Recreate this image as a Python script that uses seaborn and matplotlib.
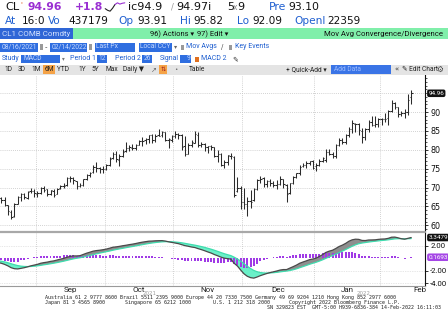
import numpy as np
import pandas as pd
import matplotlib
matplotlib.use("Agg")
import matplotlib.pyplot as plt
import seaborn as sns
from matplotlib.patches import Rectangle
from matplotlib.transforms import blended_transform_factory as btf

# ---------------- data ----------------
start_date = "2021-08-16"
end_date = "2022-02-14"
holidays = ["2021-09-06", "2021-11-25", "2021-12-24", "2022-01-17"]

opens = [68.00, 67.15, 66.70, 65.27, 63.50, 62.50, 65.70, 67.60, 68.20, 67.30, 69.00, 69.20,
         68.40, 68.60, 70.00, 69.50, 68.40, 69.20, 68.30, 69.80, 70.50, 70.60, 72.50, 72.60, 71.70, 70.40, 70.60, 72.30, 73.30, 74.00, 75.50, 75.30, 74.80,
         75.00, 75.90, 77.70, 79.00, 77.40, 78.40, 79.60, 80.50, 80.60, 80.50, 81.40, 82.30, 82.50, 82.90, 83.80, 82.50, 83.80, 83.80, 84.60, 82.60, 82.70,
         83.70, 84.10, 83.90, 80.90, 78.80, 81.30, 81.90, 84.00, 81.40, 81.50, 80.80, 80.90, 80.70, 78.30, 78.90, 76.00, 76.80, 78.40, 78.00, 69.00, 70.00,
         66.30, 65.60, 66.50, 66.80, 69.50, 72.00, 72.40, 70.90, 71.70, 71.30, 70.70, 70.90, 72.30, 70.80, 68.50, 71.10, 72.80, 73.90, 75.60, 75.90, 76.50, 76.90,
         75.70, 76.10, 77.00, 77.40, 79.50, 78.90, 78.30, 81.20, 82.60, 82.10, 83.90, 85.40, 86.90, 86.80, 85.00, 83.30, 85.60, 87.40, 86.60, 86.90,
         88.10, 88.20, 88.30, 90.30, 92.30, 91.30, 89.40, 89.70, 89.90, 93.91]
highs = [68.20, 67.55, 67.40, 65.32, 63.93, 65.94, 67.76, 68.50, 68.52, 69.03, 69.93, 69.57,
         69.04, 70.22, 70.30, 69.60, 69.46, 69.52, 69.86, 70.78, 71.10, 72.80, 73.15, 72.73, 71.78, 71.29, 72.34, 73.59, 74.14, 75.89, 76.67, 75.50, 75.59,
         76.17, 77.96, 79.48, 79.78, 78.91, 80.11, 82.18, 81.14, 81.62, 81.54, 82.57, 83.26, 83.08, 83.96, 84.26, 84.23, 85.41, 84.88, 84.72, 83.21, 84.00,
         84.88, 84.46, 84.06, 83.55, 81.79, 82.64, 84.97, 84.84, 81.98, 81.77, 81.05, 81.31, 80.84, 79.96, 79.20, 77.22, 78.69, 79.04, 78.35, 72.72, 70.54,
         69.90, 67.39, 69.23, 69.77, 72.32, 72.98, 72.78, 71.94, 72.17, 71.63, 71.90, 72.94, 72.38, 70.84, 71.28, 72.98, 73.95, 75.97, 76.62, 77.01, 77.12, 77.18,
         76.40, 77.64, 78.03, 80.24, 80.12, 79.37, 81.43, 83.09, 83.00, 84.26, 86.00, 87.91, 87.00, 87.02, 85.78, 85.81, 87.95, 88.84, 88.84, 88.37,
         88.44, 89.72, 90.42, 93.17, 92.73, 91.44, 90.33, 90.80, 94.66, 95.82]
lows = [65.01, 65.90, 65.16, 62.66, 61.74, 62.31, 65.61, 66.57, 66.86, 67.04, 68.47, 67.62,
        67.58, 68.40, 68.78, 67.77, 68.05, 67.61, 68.20, 69.50, 69.81, 70.36, 71.55, 71.05, 69.64, 70.25, 70.40, 71.88, 72.71, 73.96, 74.05, 73.76, 73.81,
        74.56, 75.63, 77.56, 76.67, 75.82, 78.20, 79.49, 79.62, 79.93, 79.95, 81.25, 80.97, 81.62, 81.83, 81.90, 82.08, 83.56, 83.49, 82.27, 80.58, 82.01,
        83.25, 82.88, 79.85, 78.25, 78.80, 80.65, 81.85, 80.81, 80.77, 79.59, 79.24, 79.82, 78.09, 76.86, 75.63, 75.09, 75.92, 77.51, 67.40, 68.87, 64.43,
        64.39, 62.43, 64.67, 66.51, 69.36, 71.10, 70.13, 70.17, 70.53, 70.12, 69.57, 70.69, 69.95, 66.12, 68.32, 70.98, 72.48, 73.21, 75.37, 75.10, 75.90, 74.90,
        74.27, 75.71, 76.79, 76.73, 78.49, 77.81, 77.95, 81.03, 81.52, 81.60, 83.50, 84.54, 84.75, 84.00, 81.72, 82.69, 84.60, 86.36, 85.99, 86.13,
        86.55, 87.24, 86.63, 90.05, 90.81, 88.58, 88.92, 88.50, 89.30, 92.09]
closes = [67.29, 66.59, 65.46, 63.69, 62.32, 65.64, 67.54, 68.36, 67.42, 68.74, 69.21, 68.50,
          68.59, 69.99, 69.29, 68.35, 69.30, 68.14, 69.72, 70.45, 70.46, 72.61, 72.61, 71.97, 70.29, 70.56, 72.23, 73.30, 73.98, 75.45, 75.29, 74.83, 75.03,
          75.88, 77.62, 78.93, 77.43, 78.30, 79.35, 80.52, 80.64, 80.44, 81.31, 82.28, 82.44, 82.96, 83.87, 82.50, 83.76, 83.76, 84.65, 82.66, 82.81, 83.57,
          84.05, 83.91, 80.86, 78.81, 81.27, 81.93, 84.15, 81.34, 81.59, 80.79, 80.88, 80.76, 78.36, 79.01, 76.10, 76.75, 78.50, 78.39, 68.15, 69.95, 66.18,
          65.57, 66.50, 66.26, 69.49, 72.05, 72.36, 70.94, 71.67, 71.29, 70.73, 70.87, 72.38, 70.86, 68.23, 71.12, 72.76, 73.79, 75.57, 75.98, 76.56, 76.99, 75.21,
          76.08, 76.99, 77.85, 79.46, 78.90, 78.23, 81.22, 82.64, 82.12, 83.82, 85.43, 86.96, 86.90, 85.14, 83.31, 85.60, 87.35, 86.61, 86.82, 88.15,
          88.20, 88.26, 90.27, 92.31, 91.32, 89.36, 89.66, 89.88, 93.10, 94.96]

macd = [-0.70, -0.80, -0.98, -1.22, -1.52, -1.68, -1.72, -1.62, -1.52, -1.38, -1.22, -1.10,
        -0.98, -0.80, -0.70, -0.62, -0.50, -0.42, -0.28, -0.14, -0.02, 0.16, 0.30, 0.38, 0.38, 0.42, 0.62, 0.82, 0.98, 1.15, 1.24, 1.30, 1.38,
        1.48, 1.62, 1.78, 1.84, 1.92, 2.02, 2.10, 2.20, 2.28, 2.38, 2.50, 2.60, 2.68, 2.76, 2.78, 2.82, 2.84, 2.85, 2.78, 2.66, 2.56,
        2.46, 2.36, 2.20, 2.04, 1.94, 1.82, 1.74, 1.56, 1.40, 1.22, 1.02, 0.84, 0.60, 0.40, 0.18, 0.02, -0.06, -0.14, -0.80, -1.25, -1.90,
        -2.50, -2.90, -3.12, -3.20, -3.02, -2.80, -2.62, -2.45, -2.30, -2.18, -2.05, -1.90, -1.82, -1.82, -1.58, -1.35, -1.10, -0.80, -0.60, -0.42, -0.22, -0.12,
        0.02, 0.30, 0.60, 0.95, 1.15, 1.30, 1.58, 1.90, 2.12, 2.40, 2.75, 2.98, 3.08, 3.05, 2.88, 2.86, 2.95, 2.96, 2.98, 3.05,
        3.10, 3.12, 3.22, 3.40, 3.42, 3.30, 3.15, 3.08, 3.22, 3.3479]
signal = [-0.40, -0.48, -0.58, -0.72, -0.88, -1.04, -1.18, -1.27, -1.32, -1.34, -1.32, -1.28,
          -1.22, -1.14, -1.05, -0.97, -0.88, -0.79, -0.69, -0.58, -0.47, -0.34, -0.21, -0.09, 0.01, 0.09, 0.20, 0.32, 0.45, 0.59, 0.72, 0.84, 0.95,
          1.06, 1.17, 1.30, 1.41, 1.51, 1.61, 1.71, 1.81, 1.90, 2.00, 2.10, 2.20, 2.30, 2.39, 2.47, 2.54, 2.60, 2.65, 2.68, 2.68, 2.66,
          2.62, 2.57, 2.50, 2.41, 2.31, 2.21, 2.12, 2.01, 1.89, 1.76, 1.61, 1.46, 1.29, 1.11, 0.92, 0.74, 0.58, 0.43, 0.18, -0.11, -0.47,
          -0.88, -1.28, -1.65, -1.96, -2.17, -2.30, -2.37, -2.38, -2.36, -2.32, -2.27, -2.19, -2.12, -2.06, -1.97, -1.85, -1.70, -1.52, -1.34, -1.16, -0.97, -0.80,
          -0.64, -0.45, -0.24, 0.00, 0.23, 0.44, 0.67, 0.92, 1.16, 1.41, 1.68, 1.94, 2.17, 2.35, 2.46, 2.54, 2.62, 2.69, 2.75, 2.81,
          2.87, 2.92, 2.98, 3.06, 3.13, 3.16, 3.16, 3.14, 3.16, 3.1786]
histogram = [-0.30, -0.32, -0.40, -0.50, -0.64, -0.64, -0.54, -0.35, -0.20, -0.04, 0.10, 0.18,
             0.24, 0.34, 0.35, 0.35, 0.38, 0.37, 0.41, 0.44, 0.45, 0.50, 0.51, 0.47, 0.37, 0.33, 0.42, 0.50, 0.53, 0.56, 0.52, 0.46, 0.43,
             0.42, 0.45, 0.48, 0.43, 0.41, 0.41, 0.39, 0.39, 0.38, 0.38, 0.40, 0.40, 0.38, 0.37, 0.31, 0.28, 0.24, 0.20, 0.10, -0.02, -0.10,
             -0.16, -0.21, -0.30, -0.37, -0.37, -0.39, -0.38, -0.45, -0.49, -0.54, -0.59, -0.62, -0.69, -0.71, -0.74, -0.72, -0.64, -0.57, -0.98, -1.14, -1.43,
             -1.62, -1.62, -1.47, -1.24, -0.85, -0.50, -0.25, -0.07, 0.06, 0.14, 0.22, 0.29, 0.30, 0.24, 0.39, 0.50, 0.60, 0.72, 0.74, 0.74, 0.75, 0.68,
             0.66, 0.75, 0.84, 0.95, 0.92, 0.86, 0.91, 0.98, 0.96, 0.99, 1.07, 1.04, 0.91, 0.70, 0.42, 0.32, 0.33, 0.27, 0.23, 0.24,
             0.23, 0.20, 0.24, 0.34, 0.29, 0.14, -0.01, -0.06, 0.06, 0.1693]

month_names = ["Sep", "Oct", "Nov", "Dec", "Jan", "Feb"]
month_label_pos = [22.0, 43.0, 64.0, 85.5, 106.5, 128.8]
price_grid = [60, 65, 70, 75, 80, 85, 90, 95]
price_ticks = [60, 65, 70, 75, 80, 85, 90]
macd_ticks = [-4, -2, 2]

dates = pd.bdate_range(start_date, end_date)
dates = dates[~dates.isin(pd.to_datetime(holidays))]
n = len(dates)
idx = np.arange(n)
o, h, l, c = map(np.array, (opens, highs, lows, closes))
m, s, hh = map(np.array, (macd, signal, histogram))

month_ids = dates.year * 12 + dates.month
boundaries = [i - 0.5 for i in range(1, n) if month_ids[i] != month_ids[i - 1]]

# ---------------- figure ----------------
sns.set_style("white")
plt.rcParams["font.family"] = ["DejaVu Sans"]
plt.rcParams["axes.unicode_minus"] = False

W, H = 448, 322
fig = plt.figure(figsize=(W / 100, H / 100), dpi=100)
COND = ["Roboto", "DejaVu Sans"]
MONO = ["DejaVu Sans Mono"]

BLUE_T = "#1f5fd0"
PURP = "#9a2fd2"
BOX_B = "#2f6ee0"
BOX_T = "#c5d8ff"


def fx(x):
    return x / W


def fy(y):
    return 1 - y / H


def rect(x0, y0, x1, y1, col, z=1, ec="none"):
    fig.add_artist(Rectangle((fx(x0), fy(y1)), (x1 - x0) / W, (y1 - y0) / H,
                             transform=fig.transFigure, facecolor=col,
                             edgecolor=ec, lw=0, zorder=z))


def txt(x, y, s, col="#111111", fs=7, w="normal", ha="left", fam=None, z=5):
    fig.text(fx(x), fy(y), s, color=col, fontsize=fs, fontweight=w, ha=ha,
             va="center", family=fam or ["DejaVu Sans"], zorder=z)


# Row 1
txt(5, 7, "CL", "#111", 8.2)
txt(20, 4, "'", "#e06020", 5)
txt(27, 7, "94.96", PURP, 7.8, "bold")
txt(75, 7, "+1.8", PURP, 7.8, "bold")
spark_black = [0.3, 0.1, 0.0, 0.35, 0.8]
spark_purple = [0.8, 1.0, 0.85, 0.95, 1.0]
sax = fig.add_axes([fx(104), fy(12), 22 / W, 10 / H])
sax.plot([0, 1, 2, 3, 4], spark_black, color="#222", lw=0.8)
sax.plot([4, 5, 6, 7, 8], spark_purple, color=PURP, lw=0.8)
sax.set_xlim(-0.5, 8.5)
sax.set_ylim(-0.1, 1.1)
sax.axis("off")
txt(128, 7, "ic94.9", "#111", 8)
txt(171, 7, "/", "#999", 6)
txt(176, 7, "94.97i", "#111", 8)
txt(227, 7, "5", "#111", 8)
txt(233, 7.5, "x", "#888", 5.5)
txt(237, 7, "9", "#111", 8)
txt(269, 7, "Pre", BLUE_T, 7.8)
txt(288, 7, "93.10", "#111", 7.8)

# Row 2
for x, st, col in [(5, "At", BLUE_T), (22, "16:0", "#111"), (48, "Vo", BLUE_T),
                   (68, "437179", "#111"), (118, "Op", BLUE_T), (137, "93.91", "#111"),
                   (180, "Hi", BLUE_T), (193, "95.82", "#111"), (237, "Lo", BLUE_T),
                   (252, "92.09", "#111"), (294, "OpenI", BLUE_T), (327, "22359", "#111")]:
    txt(x, 21, st, col, 7.6)

# Row 3 - green bar
rect(0, 28.5, 448, 39, "#80efaa")
rect(0, 28.5, 73, 39, "#2f66d6", z=2)
txt(2, 34, "CL1 COMB Comdty", "#d4e2ff", 5.8, fam=COND)
txt(150, 34, "96) Actions \u25be", "#111", 5.4, fam=COND)
txt(197, 34, "97) Edit \u25be", "#111", 5.4, fam=COND)
txt(443, 34, "Mov Avg Convergence/Divergence", "#111", 5.6, ha="right", fam=COND)

# Row 4
for x0, x1, st in [(0, 38, "08/16/2021"), (50, 87, "02/14/2022"), (95, 135, "Last Px"), (139, 172, "Local CCY")]:
    rect(x0, 42.5, x1, 51.5, BOX_B, z=2)
    txt(x0 + 1.2, 47, st, BOX_T, 4.9, fam=COND)
rect(39.5, 44, 43, 50, "#9a9a9a", z=2)
txt(45, 47, "-", "#333", 5)
rect(88.5, 44, 92, 50, "#9a9a9a", z=2)
txt(174, 47, "\u25be", "#666", 4.5)
rect(181, 44.5, 184, 49.5, "#999999", z=2)
txt(186, 47, "Mov Avgs", BLUE_T, 5.0, fam=COND)
txt(221, 47, "/", "#555", 5)
rect(229, 44.5, 232, 49.5, "#999999", z=2)
txt(235, 47, "Key Events", BLUE_T, 5.0, fam=COND)

# Row 5
txt(2, 59, "Study", BLUE_T, 5.0, fam=COND)
for x0, x1, st in [(21, 60, "MACD"), (97, 107, "12"), (142, 152, "26"), (180, 191, "9")]:
    rect(x0, 55, x1, 63, BOX_B, z=2)
    if st == "MACD":
        txt(x0 + 2, 59, st, BOX_T, 4.8, fam=COND)
    else:
        txt(x1 - 1, 59, st, BOX_T, 4.8, ha="right", fam=COND)
txt(61.5, 59, "\u25be", "#777", 4)
txt(70, 59, "Period 1", BLUE_T, 5.0, fam=COND)
txt(115, 59, "Period 2", BLUE_T, 5.0, fam=COND)
txt(160, 59, "Signal", BLUE_T, 5.0, fam=COND)
rect(195, 56.5, 199, 61.5, "#e07020", z=2)
txt(201, 59, "MACD 2", BLUE_T, 5.0, fam=COND)
txt(232, 59, "\u270e", "#333", 5)

# Row 6 - gray toolbar
rect(0, 64.5, 448, 74.5, "#e4e4e4")
rect(43, 65, 55, 74, "#f5a347", z=2)
for x, st in [(8, "1D"), (22, "3D"), (36, "1M"), (49, "6M"), (63, "YTD"), (82, "1Y"),
              (95, "5Y"), (112, "Max"), (133, "Daily \u25bc")]:
    txt(x, 69.5, st, "#222", 4.8, ha="center", fam=COND, z=6)
txt(154, 69.5, "\u2197", "#666", 5, ha="center")
rect(159, 65, 167, 74, "#f5a347", z=2)
txt(163, 69.5, "\u21c5", "#a02020", 4.5, ha="center", z=6)
txt(176, 69.5, "\u2022", "#666", 4, ha="center")
txt(197, 69.5, "Table", "#222", 4.8, ha="center", fam=COND)
txt(286, 69.5, "+ Quick-Add \u25be", "#222", 4.8, fam=COND)
rect(331, 65.5, 391, 73.5, "#3a74e6", z=2)
txt(334, 69.5, "Add Data", "#9dbcff", 4.8, fam=COND, z=6)
txt(394, 69.5, "\u00ab", "#333", 5)
txt(402, 69.5, "\u270e Edit Chart", "#222", 4.8, fam=COND)
txt(440, 69.5, "\u2699", "#444", 5.5, ha="center")

# ---------------- main price panel ----------------
ax = fig.add_axes([0, fy(231), 425 / W, (231 - 75) / H])
ax.set_xlim(0.6, 130.2)
ax.set_ylim(58.5, 99.8)
grid_kw = dict(color="#c4c4c4", lw=0.6, ls=(0, (1, 1.5)), zorder=0)
for v in price_grid:
    ax.axhline(v, **grid_kw)
for b in boundaries:
    ax.axvline(b, **grid_kw)
bar_col = "#2b2b2b"
ax.vlines(idx, l, h, color=bar_col, lw=0.75, zorder=3)
ax.hlines(o, idx - 0.45, idx, color=bar_col, lw=0.75, zorder=3)
ax.hlines(c, idx, idx + 0.45, color=bar_col, lw=0.75, zorder=3)
ax.yaxis.tick_right()
ax.set_yticks(price_ticks)
ax.set_yticklabels([str(v) for v in price_ticks])
ax.set_yticks(np.arange(59, 100, 1), minor=True)
ax.tick_params(axis="y", which="major", direction="out", length=2.5, width=0.6,
               labelsize=5.8, pad=1.5, colors="#111")
ax.tick_params(axis="y", which="minor", direction="out", length=1.2, width=0.5, colors="#111")
ax.set_xticks([])
for sp in ["left", "top", "bottom"]:
    ax.spines[sp].set_visible(False)
ax.spines["right"].set_color("#111")
ax.spines["right"].set_linewidth(0.8)
tr = btf(ax.transAxes, ax.transData)
box_kw = dict(boxstyle="round,pad=0.2,rounding_size=0.3", ec="none")
ax.text(1.008, closes[-1], "%.2f" % closes[-1], transform=tr, color="white", fontsize=4.6,
        ha="left", va="center", clip_on=False, zorder=10, family=COND,
        bbox=dict(fc="#111", **box_kw))

# ---------------- MACD panel ----------------
ax2 = fig.add_axes([0, fy(286), 425 / W, (286 - 232) / H])
ax2.set_xlim(0.6, 130.2)
ax2.set_ylim(-4.47, 4.24)
for v in macd_ticks:
    ax2.axhline(v, color="#d0d0d0", lw=0.5, ls=(0, (1, 1.5)), zorder=0)
for b in boundaries:
    ax2.axvline(b, **grid_kw)
ax2.fill_between(idx, m, s, where=m >= s, interpolate=True, color="#8e8e8e", lw=0, zorder=2)
ax2.fill_between(idx, m, s, where=m < s, interpolate=True, color="#6af0c8", lw=0, zorder=2)
ax2.bar(idx, hh, width=0.6, color="#a03ae6", edgecolor="none", linewidth=0, zorder=3)
sns.lineplot(x=idx, y=s, ax=ax2, color="#3fdcae", lw=0.9, zorder=4, legend=False)
sns.lineplot(x=idx, y=m, ax=ax2, color="#4a4a4a", lw=0.9, zorder=5, legend=False)
ax2.set_xlabel("")
ax2.set_ylabel("")
ax2.yaxis.tick_right()
ax2.set_yticks(macd_ticks)
ax2.set_yticklabels(["%.2f" % v for v in macd_ticks])
ax2.tick_params(axis="y", direction="out", length=2.5, width=0.6, labelsize=5.6, pad=1.2, colors="#111")
for lab in ax2.get_yticklabels():
    lab.set_family(COND)
ax2.set_xticks(boundaries)
ax2.set_xticklabels([])
ax2.tick_params(axis="x", direction="out", length=2, width=0.6, colors="#555")
for sp in ["left", "top"]:
    ax2.spines[sp].set_visible(False)
ax2.spines["bottom"].set_color("#9a9a9a")
ax2.spines["bottom"].set_linewidth(0.8)
ax2.spines["right"].set_color("#111")
ax2.spines["right"].set_linewidth(0.8)
tr2 = btf(ax2.transAxes, ax2.transData)
ax2.text(1.008, macd[-1], "%.4f" % macd[-1], transform=tr2, color="white", fontsize=4.6,
         ha="left", va="center", clip_on=False, zorder=10, family=COND,
         bbox=dict(fc="#111", **box_kw))
ax2.text(1.008, histogram[-1], "%.4f" % histogram[-1], transform=tr2, color="white", fontsize=4.6,
         ha="left", va="center", clip_on=False, zorder=10, family=COND,
         bbox=dict(fc="#a546e6", **box_kw))

# separator between panels
fig.add_artist(plt.Line2D([0, fx(425)], [fy(231.5), fy(231.5)], transform=fig.transFigure,
                          color="#a8a8a8", lw=1.6, zorder=6))

# month labels
trm = btf(ax2.transData, fig.transFigure)
for name, p in zip(month_names, month_label_pos):
    ax2.text(p, fy(290), name, transform=trm, fontsize=5.8, color="#222",
             ha="center", va="center", clip_on=False, family=COND)
txt(150, 293.8, "2021", "#a0a0a0", 4.0, ha="center", z=3)
txt(364, 293.8, "2022", "#a0a0a0", 4.0, ha="center", z=3)

# footer
ffs = 3.65
txt(45, 297.8, "Australia 61 2 9777 8600 Brazil 5511 2395 9000 Europe 44 20 7330 7500 Germany 49 69 9204 1210 Hong Kong 852 2977 6000",
    "#222", ffs, fam=MONO)
txt(45, 302.8, "Japan 81 3 4565 8900", "#222", ffs, fam=MONO)
txt(125, 302.8, "Singapore 65 6212 1000", "#222", ffs, fam=MONO)
txt(213, 302.8, "U.S. 1 212 318 2000", "#222", ffs, fam=MONO)
txt(289, 302.8, "Copyright 2022 Bloomberg Finance L.P.", "#222", ffs, fam=MONO)
txt(267, 307.6, "SN 329823 EST  GMT-5:00 H939-6836-384 14-Feb-2022 16:11:03", "#222", ffs, fam=MONO)

fig.savefig("out.png", dpi=100)
